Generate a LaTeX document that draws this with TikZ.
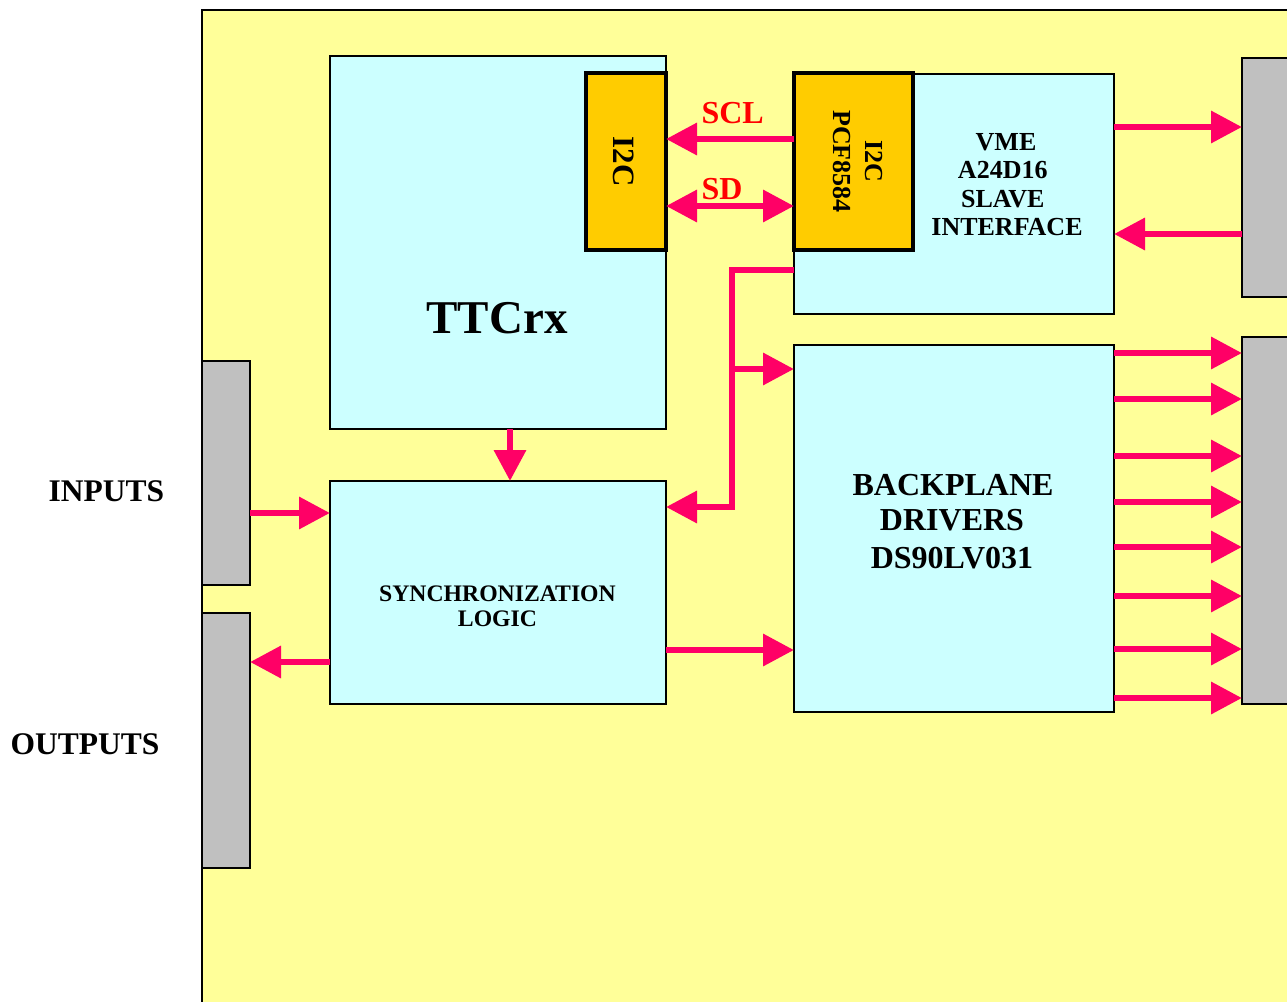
\documentclass[tikz,border=0pt]{standalone}
\usepackage{fontspec}
\setmainfont{Liberation Serif}
\usetikzlibrary{arrows.meta}
\definecolor{boardc}{HTML}{FFFF99}
\definecolor{cyanc}{HTML}{CCFFFF}
\definecolor{chipc}{HTML}{FFCC00}
\definecolor{grayc}{HTML}{C0C0C0}
\definecolor{pinkc}{HTML}{FF0066}
\definecolor{redc}{HTML}{FF0000}
\tikzset{
  blockbox/.style={draw=black, line width=2.5pt, fill=cyanc, inner sep=0pt, outer sep=0pt},
  chipbox/.style={draw=black, line width=3.5pt, fill=chipc, inner sep=0pt, outer sep=0pt},
  connbox/.style={draw=black, line width=2.5pt, fill=grayc, inner sep=0pt, outer sep=0pt},
  sig/.style={draw=pinkc, line width=6.5pt, -{Triangle[length=31pt,width=31pt]}},
  sigboth/.style={draw=pinkc, line width=6.5pt, {Triangle[length=31pt,width=31pt]}-{Triangle[length=31pt,width=31pt]}},
  lbl/.style={anchor=base, inner sep=0pt, outer sep=0pt, font=\bfseries},
  fs/.style={font=\bfseries\fontsize{#1}{#1}\selectfont},
}
\begin{document}
\begin{tikzpicture}[x=1pt,y=-1pt]
\useasboundingbox (0,0) rectangle (1287,1001);
\fill[white] (0,0) rectangle (1287,1001);
% board
\draw[line width=2.2pt, fill=boardc] (202,10) rectangle (1300,1012);

% blocks
\node[blockbox, minimum width=336pt, minimum height=373pt] (ttc) at (498,242.5) {};
\node[chipbox, minimum width=80pt, minimum height=177pt] (i2cL) at (626,161.5) {};
\node[blockbox, minimum width=320pt, minimum height=240pt] (vme) at (954,194) {};
\node[chipbox, minimum width=119pt, minimum height=177pt] (i2cR) at (853.5,161.5) {};
\node[blockbox, minimum width=320pt, minimum height=367pt] (bp) at (954,528.5) {};
\node[blockbox, minimum width=336pt, minimum height=223pt] (sync) at (498,592.5) {};

% connectors (gray)
\node[connbox, minimum width=58pt, minimum height=239pt] (connR1) at (1271,177.5) {};
\node[connbox, minimum width=58pt, minimum height=367pt] (connR2) at (1271,520.5) {};
\node[connbox, minimum width=48pt, minimum height=224pt] (connIn) at (226,473) {};
\node[connbox, minimum width=48pt, minimum height=255pt] (connOut) at (226,740.5) {};

% texts
\node[lbl, fs=47] (tTTC) at (497,333) {TTCrx};
\node[lbl, fs=31, rotate=-90] (tI2CL) at (613,161.7) {I2C};
\node[lbl, fs=26, rotate=-90] (tI2CR) at (865,161) {I2C};
\node[lbl, fs=26, rotate=-90] (tPCF) at (833,161.5) {PCF8584};
\node[lbl, fs=26] (tV1) at (1006,150) {VME};
\node[lbl, fs=26] (tV2) at (1006,178.5) {A24D16\kern6.5pt};
\node[lbl, fs=26] (tV3) at (1006,207) {SLAVE\kern6.5pt};
\node[lbl, fs=26] (tV4) at (1007,235.5) {INTERFACE};
\node[lbl, fs=32] (tB1) at (953,495) {BACKPLANE};
\node[lbl, fs=32] (tB2) at (952,530.7) {DRIVERS};
\node[lbl, fs=32] (tB3) at (952,568.3) {DS90LV031};
\node[lbl, fs=23.7] (tS1) at (497.5,601.7) {SYNCHRONIZATION};
\node[lbl, fs=23.7] (tS2) at (497.5,626.7) {LOGIC};
\node[lbl, fs=31.5] (tIn) at (106.5,501) {INPUTS};
\node[lbl, fs=31.5] (tOut) at (85,754) {OUTPUTS};
\node[lbl, fs=32, text=redc, anchor=base west] (tSCL) at (701.5,123.5) {SCL};
\node[lbl, fs=32, text=redc, anchor=base west] (tSD) at (701.5,199) {SD};

% signals
\draw[sig] (i2cR.west |- 0,139) -- (i2cL.east |- 0,139);
\draw[sigboth] (i2cL.east |- 0,206) -- (i2cR.west |- 0,206);
\draw[sig] (vme.east |- 0,127) -- (connR1.west |- 0,127);
\draw[sig] (connR1.west |- 0,234) -- (vme.east |- 0,234);
\foreach \yy in {353,399,456,502,547,596,649,698}
  \draw[sig] (bp.east |- 0,\yy) -- (connR2.west |- 0,\yy);
\coordinate (busTurn) at (732,270);
\coordinate (busBranch) at (732,369);
\coordinate (busBottom) at (732,507);
\draw[sig] (vme.west |- busTurn) -- (busTurn) -- (busBottom) -- (sync.east |- busBottom);
\draw[sig] (busBranch) -- (bp.west |- busBranch);
\draw[sig] (ttc.south -| 510,0) -- (sync.north -| 510,0);
\draw[sig] (connIn.east |- 0,513) -- (sync.west |- 0,513);
\draw[sig] (sync.west |- 0,662) -- (connOut.east |- 0,662);
\draw[sig] (sync.east |- 0,650) -- (bp.west |- 0,650);
\end{tikzpicture}
\end{document}
